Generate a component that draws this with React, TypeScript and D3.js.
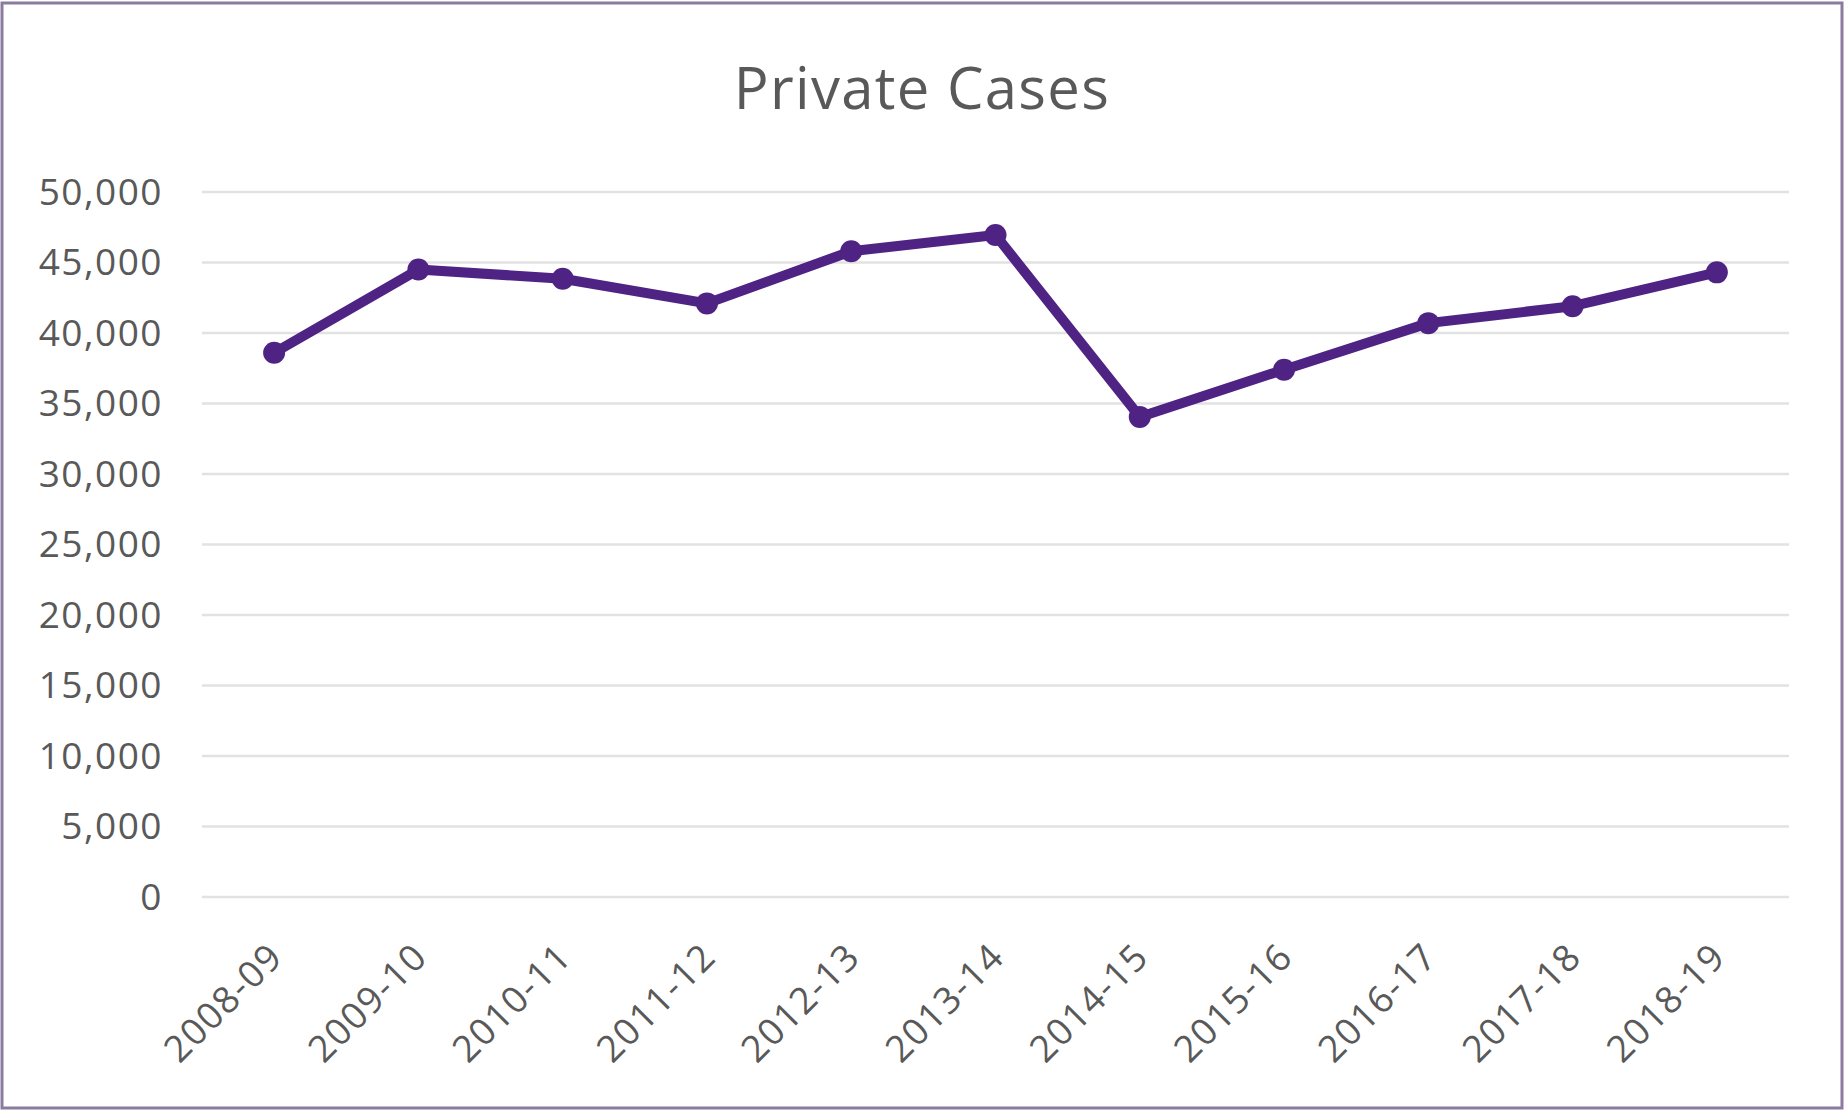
import React from "react";
import * as d3 from "d3";

const categories = ["2008-09","2009-10","2010-11","2011-12","2012-13","2013-14","2014-15","2015-16","2016-17","2017-18","2018-19"];
const privateCases = [38600, 44500, 43850, 42100, 45800, 46950, 34050, 37400, 40700, 41900, 44300];
const yTicks = [0, 5000, 10000, 15000, 20000, 25000, 30000, 35000, 40000, 45000, 50000];
const title = "Private Cases";

const W = 1845;
const H = 1111;
const plotLeft = 202;
const plotRight = 1789;
const plotTop = 192;
const plotBottom = 897;
const purple = "#4f2383";
const textColor = "#595959";
const font = "'Open Sans', 'Noto Sans', sans-serif";

export default function App() {
  const x = d3.scaleBand<string>().domain(categories).range([plotLeft, plotRight]).padding(0);
  const y = d3.scaleLinear().domain([0, 50000]).range([plotBottom, plotTop]);
  const cx = (c: string) => (x(c) as number) + x.bandwidth() / 2;
  const fmt = d3.format(",");
  const line = d3
    .line<number>()
    .x((_, i) => cx(categories[i]))
    .y((d) => y(d));

  return (
    <div style={{ position: "absolute", left: 0, top: 0 }}>
      <svg width={W} height={H} style={{ display: "block" }}>
        <rect x={0} y={0} width={W} height={H} fill="#ffffff" />
        <rect x={2} y={3} width={1840} height={1105} fill="none" stroke="#8a7b9f" strokeWidth={3} />
        <text x={922} y={109} textAnchor="middle" fontFamily={font} fontSize={58} letterSpacing={1.3} fill={textColor}>
          {title}
        </text>
        {yTicks.map((t) => (
          <g key={t}>
            <line x1={plotLeft} x2={plotRight} y1={y(t)} y2={y(t)} stroke="#e2e2e2" strokeWidth={2.5} />
            <text x={163} y={y(t)} dy="0.35em" textAnchor="end" fontFamily={font} fontSize={37} letterSpacing={1.5} fill={textColor}>
              {fmt(t)}
            </text>
          </g>
        ))}
        {categories.map((c) => (
          <text
            key={c}
            transform={`translate(${cx(c) + 11},${plotBottom + 62}) rotate(-45)`}
            textAnchor="end"
            fontFamily={font}
            fontSize={37}
            letterSpacing={1.5}
            fill={textColor}
          >
            {c}
          </text>
        ))}
        <path d={line(privateCases) || ""} fill="none" stroke={purple} strokeWidth={10} strokeLinejoin="round" />
        {privateCases.map((v, i) => (
          <circle key={i} cx={cx(categories[i])} cy={y(v)} r={11} fill={purple} />
        ))}
      </svg>
    </div>
  );
}
